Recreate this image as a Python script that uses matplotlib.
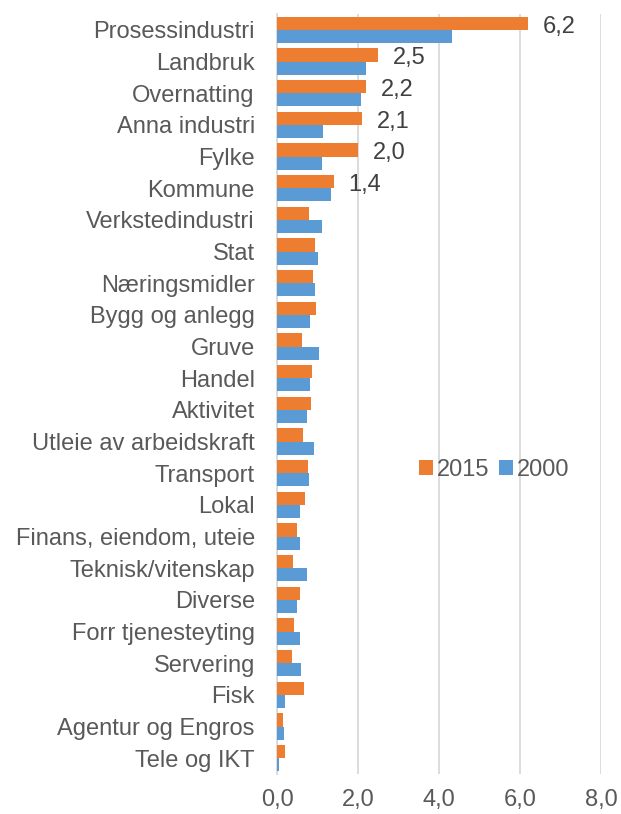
import matplotlib.pyplot as plt
import numpy as np

plt.rcParams['font.family'] = ['Liberation Sans', 'DejaVu Sans']

categories = ['Prosessindustri', 'Landbruk', 'Overnatting', 'Anna industri', 'Fylke',
              'Kommune', 'Verkstedindustri', 'Stat', 'Næringsmidler', 'Bygg og anlegg',
              'Gruve', 'Handel', 'Aktivitet', 'Utleie av arbeidskraft', 'Transport',
              'Lokal', 'Finans, eiendom, uteie', 'Teknisk/vitenskap', 'Diverse',
              'Forr tjenesteyting', 'Servering', 'Fisk', 'Agentur og Engros', 'Tele og IKT']
v2015 = [6.2, 2.5, 2.2, 2.1, 2.0, 1.4, 0.79, 0.93, 0.89, 0.97, 0.62, 0.87, 0.83, 0.65,
         0.76, 0.68, 0.49, 0.39, 0.58, 0.43, 0.37, 0.66, 0.16, 0.19]
v2000 = [4.32, 2.19, 2.08, 1.14, 1.12, 1.34, 1.12, 1.0, 0.94, 0.81, 1.04, 0.81, 0.75, 0.92,
         0.78, 0.58, 0.58, 0.74, 0.49, 0.56, 0.59, 0.2, 0.18, 0.04]
labelled = 6  # only the top six 2015 bars carry a value label

orange = '#ED7D31'
blue = '#5B9BD5'
txt = '#595959'
fs = 17

fig = plt.figure(figsize=(6.21, 8.14), dpi=100)
ax = fig.add_axes([277 / 621, 40 / 814, 324 / 621, 760 / 814])

y = np.arange(len(categories))
h = 0.42
ax.barh(y - h / 2, v2015, height=h, color=orange, label='2015', zorder=3)
ax.barh(y + h / 2, v2000, height=h, color=blue, label='2000', zorder=3)

for i in range(labelled):
    ax.text(v2015[i] + 0.37, y[i] - 0.1, f'{v2015[i]:.1f}'.replace('.', ','),
            va='center', ha='left', fontsize=fs, color='#404040')

ax.set_ylim(len(categories) - 0.5, -0.5)
ax.set_xlim(0, 8)
ax.set_xticks([0, 2, 4, 6, 8])
ax.set_xticklabels([f'{t:.1f}'.replace('.', ',') for t in [0, 2, 4, 6, 8]])
ax.set_yticks(y)
ax.set_yticklabels(categories)
ax.tick_params(length=0, labelsize=fs, colors=txt)
ax.tick_params(axis='x', pad=11)
ax.tick_params(axis='y', pad=16)
ax.xaxis.grid(True, color='#d9d9d9', linewidth=1.3, zorder=0)
for s in ['top', 'right', 'bottom']:
    ax.spines[s].set_visible(False)
ax.spines['left'].set_color('#d9d9d9')
ax.spines['left'].set_linewidth(1.3)

ax.legend(loc='center', bbox_to_anchor=(0.67, 0.4), ncol=2, frameon=False,
          fontsize=fs, handlelength=0.6, handleheight=0.6, handletextpad=0.15,
          columnspacing=0.4, labelcolor=txt, borderpad=0, borderaxespad=0)

plt.savefig('out.png', dpi=100)
